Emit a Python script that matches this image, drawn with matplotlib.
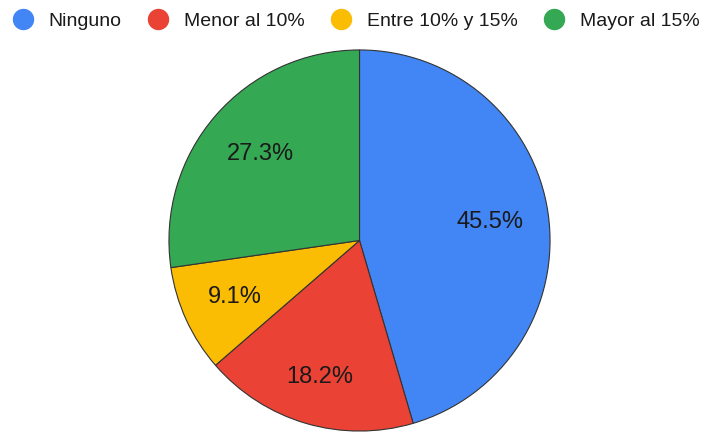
import matplotlib
matplotlib.use('Agg')
import matplotlib.pyplot as plt
from matplotlib.lines import Line2D
import numpy as np

plt.rcParams['font.family'] = ['Liberation Sans', 'DejaVu Sans']

categories = ['Ninguno', 'Menor al 10%', 'Entre 10% y 15%', 'Mayor al 15%']
values = [45.5, 18.2, 9.1, 27.3]
colors = ['#4285F4', '#EA4335', '#FBBC04', '#34A853']
# radial placement of each percent label (fraction of radius)
label_dist = [0.692, 0.745, 0.72, 0.69]

fig = plt.figure(figsize=(7.07, 4.32), dpi=100)
ax = fig.add_axes([168 / 707, 0.0, 383 / 707, 383 / 432])

wedges, texts, autotexts = ax.pie(
    values, colors=colors, startangle=90, counterclock=False,
    autopct='%.1f%%', pctdistance=0.69,
    wedgeprops=dict(edgecolor='#333333', linewidth=0.8),
    textprops=dict(fontsize=17, color='#1a1a1a'))

# nudge labels to the same spots as the reference
for w, t, d in zip(wedges, autotexts, label_dist):
    mid = np.deg2rad((w.theta1 + w.theta2) / 2)
    t.set_position((d * np.cos(mid), d * np.sin(mid)))

ax.set_xlim(-1.005, 1.005)
ax.set_ylim(-1.005, 1.005)
ax.set_aspect('equal')

handles = [Line2D([], [], marker='o', linestyle='', markersize=14.4,
                  markerfacecolor=c, markeredgecolor=c) for c in colors]
fig.legend(handles, categories, loc='center', bbox_to_anchor=(0.504, 1 - 21 / 432),
           ncol=4, frameon=False, fontsize=14, handletextpad=0.8,
           columnspacing=1.4, handlelength=1.0, borderpad=0.0,
           labelcolor='#1a1a1a')

fig.savefig('out.png', dpi=100)
